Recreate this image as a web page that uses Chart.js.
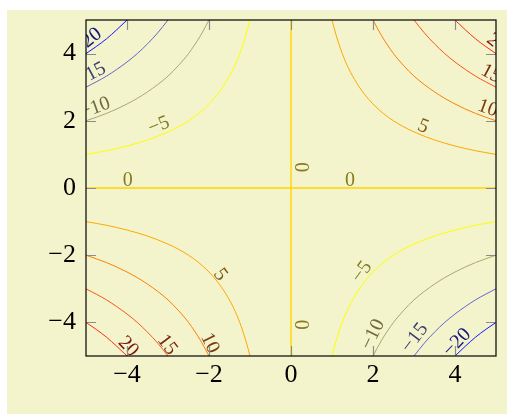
<!DOCTYPE html>
<html lang="en">
<head>
  <meta charset="UTF-8" />
  <title>Contour x*y</title>
  <script src="https://cdn.jsdelivr.net/npm/chart.js"></script>
  <style>
    body { margin: 0; background: #ffffff; }
    #wrap { position: absolute; left: 0; top: 0; width: 507px; height: 414px; }
  </style>
</head>
<body>
<div id="wrap"><canvas id="contour"></canvas></div>

<script>
  // contour levels of f(x,y) = x*y
  const levels = [-20, -15, -10, -5, 0, 5, 10, 15, 20];
  const xTicks = [-4, -2, 0, 2, 4];
  const yTicks = [-4, -2, 0, 2, 4];

  // branches, [x, y]
  const lvlM20a = [[-5, 4], [-4.75, 4.21], [-4.5, 4.44], [-4.25, 4.71], [-4, 5]];
  const lvlM20b = [[4, -5], [4.25, -4.71], [4.5, -4.44], [4.75, -4.21], [5, -4]];
  const lvlM15a = [[-5, 3], [-4.5, 3.33], [-4, 3.75], [-3.75, 4], [-3.5, 4.29], [-3.25, 4.62], [-3, 5]];
  const lvlM15b = [[3, -5], [3.25, -4.62], [3.5, -4.29], [3.75, -4], [4, -3.75], [4.5, -3.33], [5, -3]];
  const lvlM10a = [[-5, 2], [-4.5, 2.22], [-4, 2.5], [-3.5, 2.86], [-3, 3.33], [-2.75, 3.64], [-2.5, 4], [-2.2, 4.55], [-2, 5]];
  const lvlM10b = [[2, -5], [2.2, -4.55], [2.5, -4], [2.75, -3.64], [3, -3.33], [3.5, -2.86], [4, -2.5], [4.5, -2.22], [5, -2]];
  const lvlM5a = [[-5, 1], [-4.5, 1.11], [-4, 1.25], [-3.5, 1.43], [-3, 1.67], [-2.75, 1.82], [-2.5, 2], [-2.25, 2.22],
                  [-2, 2.5], [-1.8, 2.78], [-1.6, 3.13], [-1.4, 3.57], [-1.25, 4], [-1.1, 4.55], [-1, 5]];
  const lvlM5b = [[1, -5], [1.1, -4.55], [1.25, -4], [1.4, -3.57], [1.6, -3.13], [1.8, -2.78], [2, -2.5], [2.25, -2.22],
                  [2.5, -2], [2.75, -1.82], [3, -1.67], [3.5, -1.43], [4, -1.25], [4.5, -1.11], [5, -1]];
  const lvl0a = [[-5, 0], [5, 0]];
  const lvl0b = [[0, -5], [0, 5]];
  const lvlP5a = [[-5, -1], [-4.5, -1.11], [-4, -1.25], [-3.5, -1.43], [-3, -1.67], [-2.75, -1.82], [-2.5, -2], [-2.25, -2.22],
                  [-2, -2.5], [-1.8, -2.78], [-1.6, -3.13], [-1.4, -3.57], [-1.25, -4], [-1.1, -4.55], [-1, -5]];
  const lvlP5b = [[1, 5], [1.1, 4.55], [1.25, 4], [1.4, 3.57], [1.6, 3.13], [1.8, 2.78], [2, 2.5], [2.25, 2.22],
                  [2.5, 2], [2.75, 1.82], [3, 1.67], [3.5, 1.43], [4, 1.25], [4.5, 1.11], [5, 1]];
  const lvlP10a = [[-5, -2], [-4.5, -2.22], [-4, -2.5], [-3.5, -2.86], [-3, -3.33], [-2.75, -3.64], [-2.5, -4], [-2.2, -4.55], [-2, -5]];
  const lvlP10b = [[2, 5], [2.2, 4.55], [2.5, 4], [2.75, 3.64], [3, 3.33], [3.5, 2.86], [4, 2.5], [4.5, 2.22], [5, 2]];
  const lvlP15a = [[-5, -3], [-4.5, -3.33], [-4, -3.75], [-3.75, -4], [-3.5, -4.29], [-3.25, -4.62], [-3, -5]];
  const lvlP15b = [[3, 5], [3.25, 4.62], [3.5, 4.29], [3.75, 4], [4, 3.75], [4.5, 3.33], [5, 3]];
  const lvlP20a = [[-5, -4], [-4.75, -4.21], [-4.5, -4.44], [-4.25, -4.71], [-4, -5]];
  const lvlP20b = [[4, 5], [4.25, 4.71], [4.5, 4.44], [4.75, 4.21], [5, 4]];

  const branches = [
    [lvlM20a, lvlM20b], [lvlM15a, lvlM15b], [lvlM10a, lvlM10b], [lvlM5a, lvlM5b],
    [lvl0a, lvl0b], [lvlP5a, lvlP5b], [lvlP10a, lvlP10b], [lvlP15a, lvlP15b], [lvlP20a, lvlP20b]
  ];

  const lineColors  = ['#1414ff', '#6464d2', '#a8a870', '#ffff00', '#ffd400', '#ffa800', '#ff8000', '#ff5414', '#ff2a10'];
  const labelColors = ['#14147a', '#3c3c6e', '#6c6c3c', '#808020', '#8a7a1c', '#7c5814', '#7c3c10', '#7c2810', '#7a1410'];

  // label anchors: [level, x, y, angle in degrees]
  const contourLabels = [
    [-20, -4.97, 4.36, -39], [-15, -4.88, 3.38, -28], [-10, -4.78, 2.38, -20], [-5, -3.22, 1.86, -22],
    [0, -3.98, 0.23, 0], [0, 1.44, 0.23, 0], [0, 0.22, 0.62, 90], [0, 0.22, -4.07, 90],
    [5, 3.22, 1.83, 22], [10, 4.80, 2.37, 20], [15, 4.88, 3.40, 28], [20, 5.02, 4.30, 39],
    [5, -1.73, -2.58, 54], [10, -1.98, -4.62, 64], [15, -3.02, -4.67, 53], [20, -3.97, -4.72, 46],
    [-5, 1.73, -2.50, -54], [-10, 2.00, -4.36, -64], [-15, 3.02, -4.46, -53], [-20, 4.05, -4.60, -46]
  ];

  const serif = '"Liberation Serif", serif';

  function fmt(v) {
    return v < 0 ? '\u2212' + Math.abs(v) : String(v);
  }

  const datasets = [];
  levels.forEach((lv, i) => {
    branches[i].forEach(b => {
      datasets.push({
        label: String(lv),
        data: b.map(p => ({ x: p[0], y: p[1] })),
        borderColor: lineColors[i],
        borderWidth: lv === 0 ? 1.4 : 1,
        pointRadius: 0,
        showLine: true,
        cubicInterpolationMode: 'monotone',
        fill: false
      });
    });
  });

  const decorPlugin = {
    id: 'decor',
    beforeDraw(chart) {
      const ctx = chart.ctx;
      ctx.save();
      ctx.fillStyle = '#f3f4cc';
      ctx.fillRect(7, 10, 500, 404);
      ctx.restore();
    },
    afterDatasetsDraw(chart) {
      const { ctx, chartArea: a, scales: { x, y } } = chart;

      // contour labels, clipped to the axis box
      ctx.save();
      ctx.beginPath();
      ctx.rect(a.left, a.top, a.right - a.left, a.bottom - a.top);
      ctx.clip();
      ctx.font = '20px ' + serif;
      ctx.textAlign = 'center';
      ctx.textBaseline = 'middle';
      contourLabels.forEach(l => {
        const i = levels.indexOf(l[0]);
        ctx.save();
        ctx.translate(x.getPixelForValue(l[1]), y.getPixelForValue(l[2]));
        ctx.rotate(l[3] * Math.PI / 180);
        ctx.fillStyle = labelColors[i];
        ctx.fillText(fmt(l[0]), 0, 0);
        ctx.restore();
      });
      ctx.restore();

      // inner tick marks on all four sides
      ctx.save();
      ctx.strokeStyle = '#8c8c8c';
      ctx.lineWidth = 1.2;
      const tl = 10;
      ctx.beginPath();
      xTicks.forEach(v => {
        const px = Math.round(x.getPixelForValue(v)) + 0.5;
        ctx.moveTo(px, a.bottom); ctx.lineTo(px, a.bottom - tl);
        ctx.moveTo(px, a.top); ctx.lineTo(px, a.top + tl);
      });
      yTicks.forEach(v => {
        const py = Math.round(y.getPixelForValue(v)) + 0.5;
        ctx.moveTo(a.left, py); ctx.lineTo(a.left + tl, py);
        ctx.moveTo(a.right, py); ctx.lineTo(a.right - tl, py);
      });
      ctx.stroke();

      // frame
      ctx.strokeStyle = '#000000';
      ctx.lineWidth = 1.2;
      ctx.strokeRect(a.left, a.top, a.right - a.left, a.bottom - a.top);
      ctx.restore();
    }
  };

  new Chart(document.getElementById('contour'), {
    type: 'scatter',
    data: { datasets: datasets },
    options: {
      responsive: true,
      maintainAspectRatio: false,
      animation: false,
      layout: { padding: { left: 0, top: 20, right: 11, bottom: 0 } },
      plugins: { legend: { display: false }, tooltip: { enabled: false } },
      scales: {
        x: {
          type: 'linear',
          min: -5,
          max: 5,
          afterBuildTicks: s => { s.ticks = xTicks.map(v => ({ value: v })); },
          afterFit: s => { s.height = 58; s.paddingLeft = 0; s.paddingRight = 0; },
          grid: { display: false, drawTicks: false },
          border: { display: false },
          ticks: { color: '#000', padding: 4, font: { family: serif, size: 26 }, callback: v => fmt(v) }
        },
        y: {
          type: 'linear',
          min: -5,
          max: 5,
          afterBuildTicks: s => { s.ticks = yTicks.map(v => ({ value: v })); },
          afterFit: s => { s.width = 86; s.paddingTop = 0; s.paddingBottom = 0; },
          grid: { display: false, drawTicks: false },
          border: { display: false },
          ticks: { color: '#000', padding: 10, font: { family: serif, size: 26 }, callback: v => fmt(v) }
        }
      }
    },
    plugins: [decorPlugin]
  });
</script>
</body>
</html>
